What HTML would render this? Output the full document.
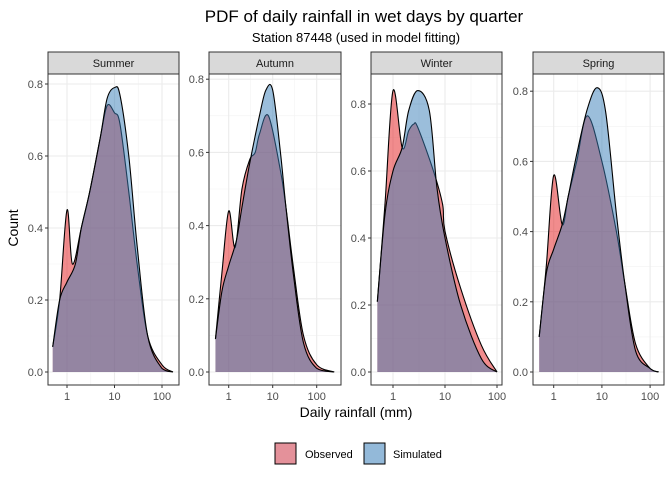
<!DOCTYPE html>
<html><head><meta charset="utf-8"><style>
body{margin:0;background:#fff}
svg{font-family:"Liberation Sans",sans-serif;display:block}
</style></head><body>
<svg id="c" width="672" height="480" xmlns="http://www.w3.org/2000/svg">
<text x="364" y="22" text-anchor="middle" font-size="17">PDF of daily rainfall in wet days by quarter</text>
<text x="356" y="42" text-anchor="middle" font-size="13">Station 87448 (used in model fitting)</text>
<text x="356" y="417" text-anchor="middle" font-size="14">Daily rainfall (mm)</text>
<text transform="translate(18,228) rotate(-90)" text-anchor="middle" font-size="14">Count</text>
<g>
<rect x="275" y="443" width="21" height="21" fill="#e4919a" stroke="#000"/>
<text x="305" y="458" font-size="11">Observed</text>
<rect x="364" y="443" width="21" height="21" fill="#93b9d9" stroke="#000"/>
<text x="393" y="458" font-size="11">Simulated</text>
</g>
<g id="panels"></g>
</svg>
<script>
const panelNames=["Summer","Autumn","Winter","Spring"];
const obsX=[[0.5,0.7,1,1.3,2,3,5,7,10,13,20,30,50,100,170],[0.5,0.7,1,1.4,2,3,4,5,8,15,20,30,50,100,250],[0.5,0.7,1,1.5,2,2.5,3,6,9,10,20,50,100],[0.5,0.7,1,1.5,2,3,5,10,20,30,50,100,150]];
const obsY=[[0.07,0.2,0.45,0.3,0.4,0.5,0.65,0.74,0.72,0.69,0.5,0.3,0.1,0.02,0],[0.09,0.27,0.44,0.34,0.5,0.58,0.6,0.65,0.7,0.55,0.45,0.28,0.1,0.02,0],[0.21,0.5,0.84,0.67,0.72,0.74,0.73,0.6,0.5,0.42,0.25,0.08,0],[0.1,0.3,0.56,0.42,0.5,0.6,0.73,0.6,0.4,0.25,0.08,0.01,0]];
const simX=[[0.5,0.7,1,1.5,2,3,5,7,10,13,20,30,50,100,170],[0.5,0.7,1,1.5,2,3,5,7,10,15,20,30,50,100,250],[0.5,0.7,1,1.5,2,3,5,7,10,20,50,100],[0.5,0.7,1,1.5,2,3,5,8,12,20,30,50,100,150]];
const simY=[[0.07,0.2,0.25,0.3,0.4,0.5,0.65,0.76,0.79,0.77,0.6,0.35,0.1,0.01,0],[0.09,0.22,0.29,0.36,0.45,0.57,0.7,0.77,0.77,0.6,0.45,0.26,0.08,0.01,0],[0.21,0.47,0.6,0.67,0.78,0.84,0.78,0.55,0.4,0.2,0.04,0],[0.1,0.28,0.35,0.42,0.5,0.62,0.75,0.81,0.74,0.45,0.25,0.06,0.01,0]];
const yTicks=["0.0","0.2","0.4","0.6","0.8"];
const xTicks=["1","10","100"];
// layout: [left,right,y0px,pxPerUnit(1.0), xOf1, decadePx]
const L=[[48,179,372,360,67,47.5],[209,341,372,366,228.7,44],[371,502,372,335,393,52],[533,664,372,351,553.7,48.2]];
const NS="http://www.w3.org/2000/svg";
const root=document.getElementById('panels');
function el(t,a,p){const e=document.createElementNS(NS,t);for(const k in a)e.setAttribute(k,a[k]);(p||root).appendChild(e);return e;}
function smooth(pts){let d="M"+pts[0][0]+","+pts[0][1];for(let i=0;i<pts.length-1;i++){const p0=pts[Math.max(0,i-1)],p1=pts[i],p2=pts[i+1],p3=pts[Math.min(pts.length-1,i+2)];
const c1=[p1[0]+(p2[0]-p0[0])/6,p1[1]+(p2[1]-p0[1])/6],c2=[p2[0]-(p3[0]-p1[0])/6,p2[1]-(p3[1]-p1[1])/6];
d+=" C"+c1[0]+","+Math.min(c1[1],372)+" "+c2[0]+","+Math.min(c2[1],372)+" "+p2[0]+","+p2[1];}return d;}
panelNames.forEach((nm,i)=>{
 const [l,r,y0,ppu,x1,dec]=L[i];
 const X=v=>x1+Math.log10(v)*dec, Y=v=>y0-v*ppu;
 const g=el('g',{});
 
 
 el('rect',{x:l,y:74,width:r-l,height:311,fill:'#fff'},g);
 for(let v=0.1;v<=0.95;v+=0.2){const yy=Y(v);if(yy>74)el('line',{x1:l,x2:r,y1:yy,y2:yy,stroke:'#f2f2f2','stroke-width':0.6},g);}
 [Math.sqrt(10),Math.sqrt(1000)].forEach(v=>el('line',{x1:X(v),x2:X(v),y1:74,y2:385,stroke:'#f2f2f2','stroke-width':0.6},g));
 yTicks.forEach(t=>{const yy=Y(+t);if(yy<74)return;el('line',{x1:l,x2:r,y1:yy,y2:yy,stroke:'#ebebeb','stroke-width':1.1},g);
  el('line',{x1:l-3,x2:l,y1:yy,y2:yy,stroke:'#333'},g);
  const tx=el('text',{x:l-5,y:yy+4,'text-anchor':'end','font-size':11,fill:'#4d4d4d'},g);tx.textContent=t;
  
  });
 xTicks.forEach(t=>{const xx=X(+t);el('line',{x1:xx,x2:xx,y1:74,y2:385,stroke:'#ebebeb','stroke-width':1.1},g);
  el('line',{x1:xx,x2:xx,y1:385,y2:388,stroke:'#333'},g);
  const tx=el('text',{x:xx,y:400,'text-anchor':'middle','font-size':11,fill:'#4d4d4d'},g);tx.textContent=t;
  
  });
 [[obsX[i],obsY[i],'#e41a1c','observed'],[simX[i],simY[i],'#377eb8','simulated']].forEach(([xs,ys,c,n])=>{
  const pts=xs.map((v,k)=>[X(v),Y(ys[k])]);
  const d=smooth(pts);
  const a=el('path',{d:d+" L"+pts[pts.length-1][0]+","+Y(0)+" L"+pts[0][0]+","+Y(0)+" Z",fill:c,'fill-opacity':0.5,stroke:'none'},g);
  
  
  el('path',{d:d,fill:'none',stroke:'#000','stroke-width':1.1},g);
 });
 el('rect',{x:l,y:74,width:r-l,height:311,fill:'none',stroke:'#333','stroke-width':1},g);
 const s=el('rect',{x:l,y:52,width:r-l,height:22,fill:'#d9d9d9',stroke:'#333','stroke-width':1},g);
 
 
 const st=el('text',{x:(l+r)/2,y:67,'text-anchor':'middle','font-size':11,fill:'#1a1a1a'},g);st.textContent=nm;
 
 
});
</script>
</body></html>
